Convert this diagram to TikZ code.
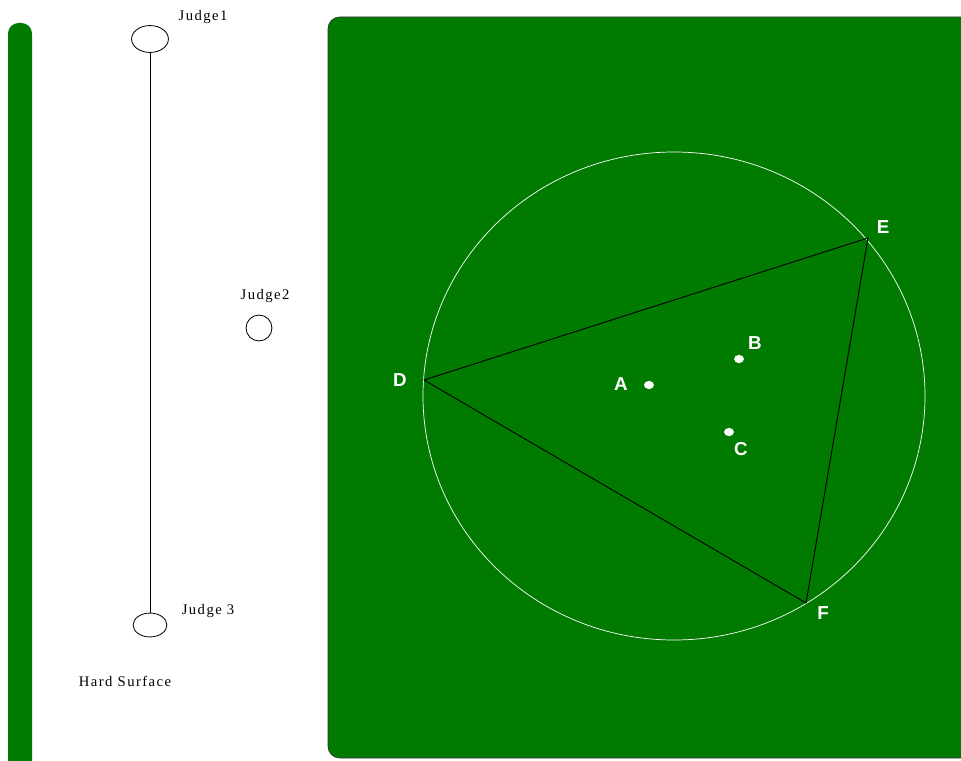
\documentclass[tikz,border=0pt]{standalone}
\usepackage{fontspec}
\setmainfont{Liberation Serif}
\newfontfamily\letterfont{Liberation Sans}
\usepackage{tikz}
\usetikzlibrary{shapes.geometric}
\definecolor{turf}{RGB}{0,123,0}

\begin{document}
\begin{tikzpicture}[x=0.03cm, y=-0.03cm,
  judge/.style={draw, ellipse, line width=0.7pt, inner sep=0pt},
  spot/.style={fill=white, ellipse, minimum width=8.5pt, minimum height=7pt, inner sep=0pt},
  letter/.style={white, font=\letterfont\bfseries\fontsize{16}{18}\selectfont},
  jtext/.style={font=\addfontfeature{LetterSpace=10}\fontsize{12.5}{14}\selectfont}]
  % Frame
  \useasboundingbox (0,0) rectangle (961,760);
  \clip (0,0) rectangle (961,760);
  
  % Hard surface strip and field
  \fill[turf, rounded corners=9] (8,780) -- (8,23) -- (32,23) -- (32,780) -- cycle;
  \filldraw[fill=turf, draw=black!80, line width=0.6pt, rounded corners=10]
    (975,758) -- (328,758) -- (328,17) -- (975,17);
  
  % Judges
  \node[judge, minimum width=37*0.85pt, minimum height=27*0.85pt] (judgeOne) at (150,39) {};
  \node[judge, circle, minimum size=26*0.85pt] (judgeTwo) at (259,328) {};
  \node[judge, minimum width=34*0.85pt, minimum height=24*0.85pt] (judgeThree) at (150,625) {};
  \draw[line width=0.8pt] (judgeOne) -- (judgeThree);
  \node[jtext] (lblOne) at (203,17) {Judge1};
  \node[jtext] (lblTwo) at (265,296) {Judge2};
  \node[jtext] (lblThree) at (208,611) {Judge 3};
  \node[jtext] (surface) at (125,681) {Hard Surface};
  
  % Circle and triangle
  \draw[white, line width=0.6pt] (674,396) ellipse (251 and 244);
  \coordinate (D) at (424,380);
  \coordinate (E) at (868,238);
  \coordinate (F) at (806,603);
  \draw[black, line width=0.8pt] (D) -- (E) -- (F) -- cycle;
  \node[letter] (labD) at (400,380) {D};
  \node[letter] (labE) at (883,227) {E};
  \node[letter] (labF) at (823,613) {F};
  
  % Points
  \node[spot] (A) at (649,385) {};
  \node[spot] (B) at (739,359) {};
  \node[spot] (C) at (729,432) {};
  \node[letter] (labA) at (621,384) {A};
  \node[letter] (labB) at (755,343) {B};
  \node[letter] (labC) at (741,449) {C};
\end{tikzpicture}
\end{document}
